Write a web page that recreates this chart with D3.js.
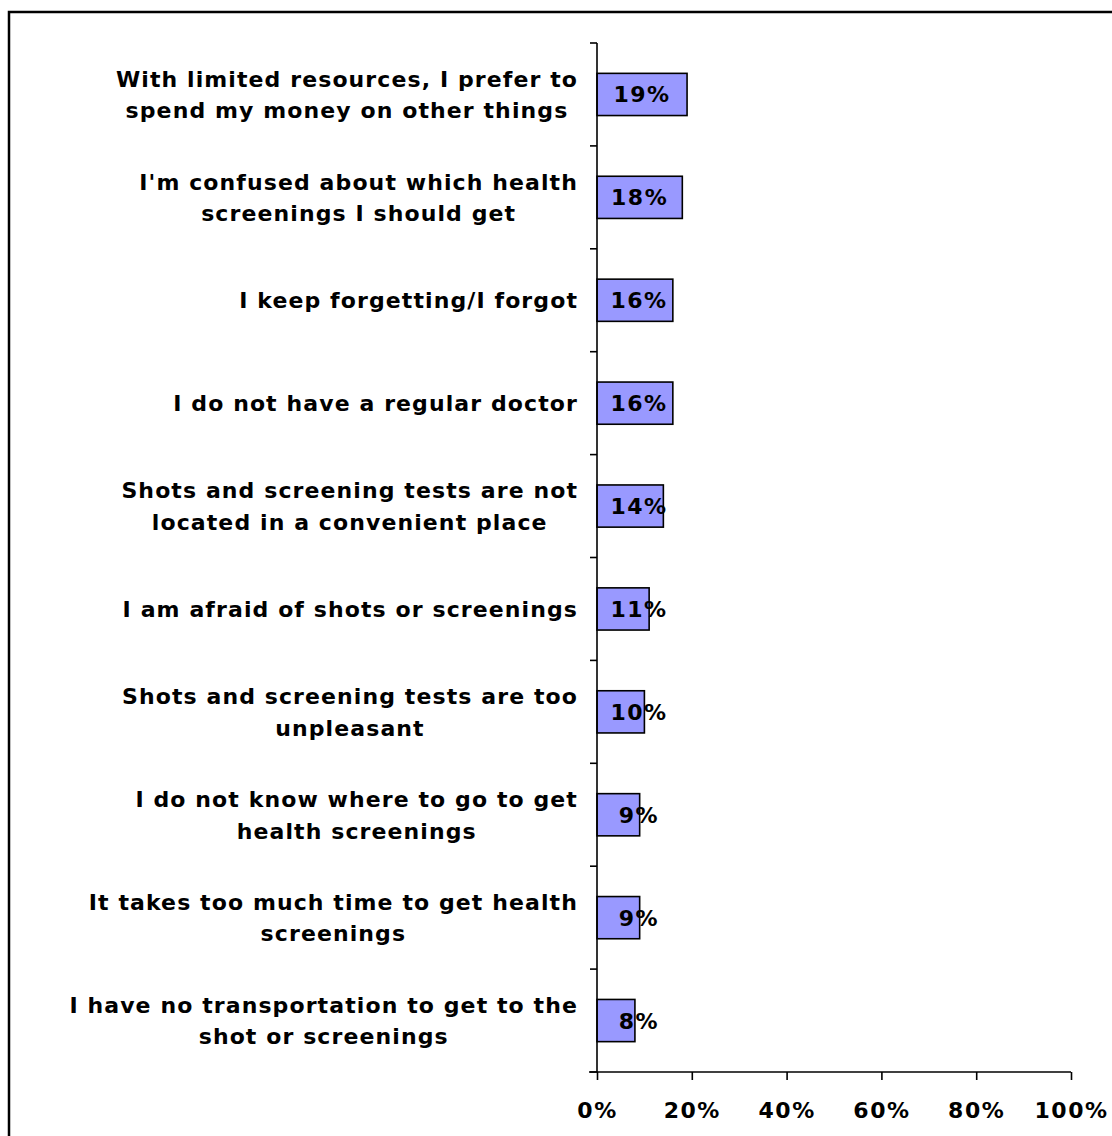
<!DOCTYPE html>
<html>
<head>
<meta charset="utf-8">
<script src="https://cdn.jsdelivr.net/npm/d3@7"></script>
<style>
  html, body { margin: 0; padding: 0; background: #fff; }
  svg { display: block; }
  text { font-family: "DejaVu Sans", Verdana, sans-serif; font-weight: bold; fill: #000; }
</style>
</head>
<body>
<svg id="chart" width="1112" height="1136"></svg>
<script>
// Reasons for not getting shots or health screenings
const categories = [
  ["With limited resources, I prefer to", "spend my money on other things"],
  ["I'm confused about which health", "screenings I should get"],
  ["I keep forgetting/I forgot"],
  ["I do not have a regular doctor"],
  ["Shots and screening tests are not", "located in a convenient place"],
  ["I am afraid of shots or screenings"],
  ["Shots and screening tests are too", "unpleasant"],
  ["I do not know where to go to get", "health screenings"],
  ["It takes too much time to get health", "screenings"],
  ["I have no transportation to get to the", "shot or screenings"]
];
const values = [19, 18, 16, 16, 14, 11, 10, 9, 9, 8];
const xTicks = [0, 20, 40, 60, 80, 100];

const svg = d3.select("#chart");

// outer frame
svg.append("path")
  .attr("d", "M9,1136 V12 H1112")
  .attr("fill", "none")
  .attr("stroke", "#000")
  .attr("stroke-width", 2.5);

const plotLeft = 597, plotRight = 1071, plotTop = 43, plotBottom = 1072;

const x = d3.scaleLinear().domain([0, 100]).range([plotLeft, plotRight]);
const idx = d3.range(values.length);
const y = d3.scaleBand().domain(idx).range([plotTop, plotBottom]).paddingInner(0.59).paddingOuter(0.295);
const yLine = d3.scaleLinear().domain([0, values.length]).range([plotTop, plotBottom]);

// bars
svg.append("g").selectAll("rect")
  .data(idx)
  .join("rect")
  .attr("x", x(0))
  .attr("y", i => y(i))
  .attr("width", i => x(values[i]) - x(0))
  .attr("height", y.bandwidth())
  .attr("fill", "#9999FF")
  .attr("stroke", "#000")
  .attr("stroke-width", 1.6);

// value axis
const xAxis = svg.append("g")
  .attr("transform", `translate(0,${plotBottom})`)
  .call(d3.axisBottom(x).tickValues(xTicks).tickSize(8).tickPadding(8).tickFormat(d => d + "%"));
xAxis.select(".domain").attr("stroke-width", 1.6).attr("d", `M${plotLeft - 8},0H${plotRight}`);
xAxis.selectAll(".tick line").attr("stroke-width", 1.6);
xAxis.selectAll(".tick text")
  .attr("font-size", 22)
  .attr("font-family", "DejaVu Sans, sans-serif")
  .attr("font-weight", "bold")
  .attr("letter-spacing", 1.5)
  .attr("y", 46)
  .attr("dy", 0);

// category axis line with ticks between categories
const yAxis = svg.append("g");
yAxis.append("line")
  .attr("x1", plotLeft).attr("x2", plotLeft)
  .attr("y1", plotTop).attr("y2", plotBottom)
  .attr("stroke", "#000").attr("stroke-width", 1.6);
yAxis.selectAll("line.tk")
  .data(d3.range(values.length + 1))
  .join("line")
  .attr("class", "tk")
  .attr("x1", plotLeft - 7).attr("x2", plotLeft)
  .attr("y1", k => yLine(k)).attr("y2", k => yLine(k))
  .attr("stroke", "#000").attr("stroke-width", 1.6);

// category labels: block right-aligned, lines centred within block
const labelRight = 578;
const lineGap = 31.5;
const lg = svg.append("g");
idx.forEach(i => {
  const lines = categories[i];
  const cy = y(i) + y.bandwidth() / 2;
  const g = lg.append("g");
  const texts = g.selectAll("text")
    .data(lines)
    .join("text")
    .attr("font-size", 22)
    .attr("letter-spacing", 1.1)
    .attr("text-anchor", "middle")
    .attr("y", (d, k) => cy + (k - (lines.length - 1) / 2) * lineGap + 8)
    .text(d => d);
  let w = 0;
  texts.each(function () { w = Math.max(w, this.getComputedTextLength()); });
  texts.attr("x", labelRight - w / 2);
});

// value labels
svg.append("g").selectAll("text")
  .data(idx)
  .join("text")
  .attr("font-size", 22)
  .attr("letter-spacing", 1.5)
  .attr("text-anchor", "middle")
  .attr("x", i => Math.max((x(0) + x(values[i])) / 2, 639))
  .attr("y", i => y(i) + y.bandwidth() / 2 + 8)
  .text(i => values[i] + "%");
</script>
</body>
</html>
